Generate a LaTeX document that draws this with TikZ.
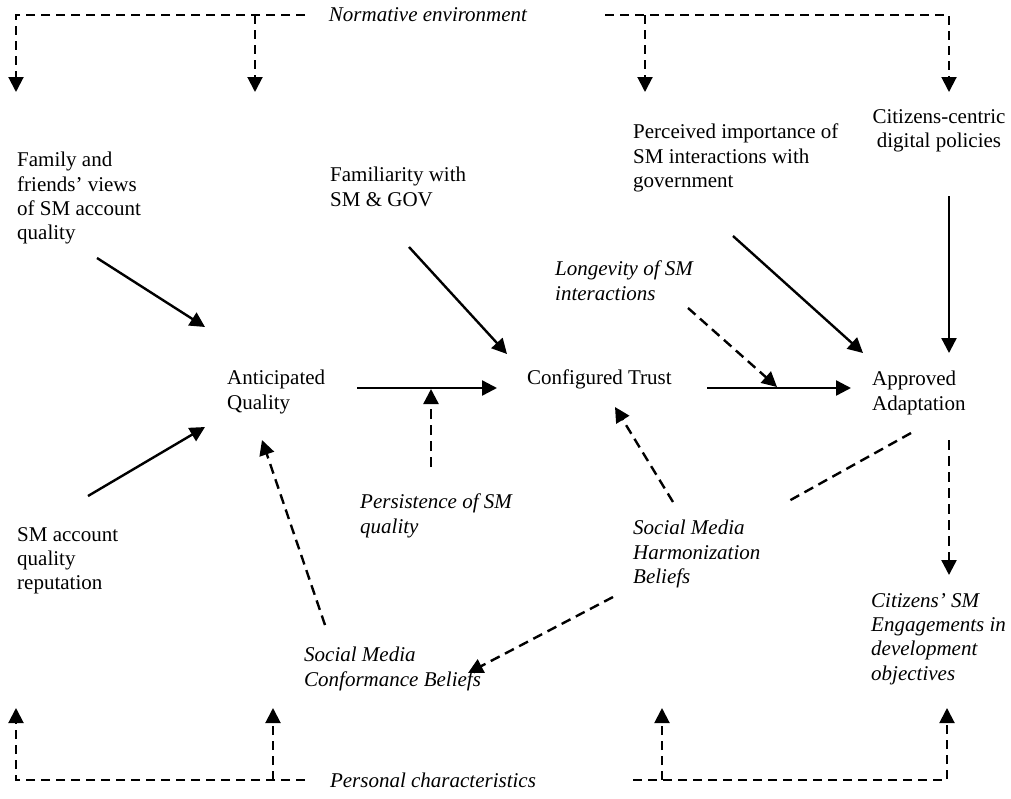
\documentclass[tikz,border=0pt]{standalone}
\usepackage{fontspec}
\setmainfont{Liberation Serif}
\usetikzlibrary{arrows.meta}
\begin{document}
\begin{tikzpicture}[x=1pt,y=-1pt,
  lbl/.style={anchor=north west,inner sep=0pt,align=left,font=\fontsize{21}{24.3}\selectfont},
  ilbl/.style={lbl,font=\fontsize{21}{24.3}\selectfont\itshape},
  solidarr/.style={line width=2.4pt,-{Triangle[length=15pt,width=15pt]}},
  dasharr/.style={line width=2.4pt,dash pattern=on 10pt off 6pt,-{Triangle[length=15pt,width=15pt]}},
  dashline/.style={line width=2.4pt,dash pattern=on 10pt off 6pt},
  brk/.style={line width=2pt,dash pattern=on 9pt off 6pt},
  brkarr/.style={brk,-{Triangle[length=15pt,width=15pt]}},
]
\useasboundingbox (0,0) rectangle (1011,798);

% labels
\node[lbl] (fam) at (17,152) {Family and\\friends' views\\of SM account\\quality};
\node[lbl] (famil) at (330,167) {Familiarity with\\SM \& GOV};
\node[lbl] (perc) at (633,124) {Perceived importance of\\SM interactions with\\government};
\node[lbl,anchor=north,align=center] (cc) at (939,109) {Citizens-centric\\digital policies};
\node[ilbl] (long) at (555,261) {Longevity of SM\\interactions};
\node[lbl] (ant) at (227,370) {Anticipated\\Quality};
\node[lbl] (conf) at (527,370) {Configured Trust};
\node[lbl] (appr) at (872,371) {Approved\\Adaptation};
\node[ilbl] (pers) at (360,494) {Persistence of SM\\quality};
\node[ilbl] (harm) at (633,520) {Social Media\\Harmonization\\Beliefs};
\node[ilbl] (confb) at (304,647) {Social Media\\Conformance Beliefs};
\node[lbl] (rep) at (17,527) {SM account\\quality\\reputation};
\node[ilbl] (eng) at (871,593) {Citizens' SM\\Engagements in\\development\\objectives};
\node[ilbl,anchor=center] (norm) at (428,15) {Normative environment};
\node[ilbl,anchor=center] (pc) at (433,780) {Personal characteristics};

% connector end points
\coordinate (a1s) at (97,258);  \coordinate (a1e) at (205,327);
\coordinate (a2s) at (88,496);  \coordinate (a2e) at (205,427);
\coordinate (a3s) at (357,388); \coordinate (a3e) at (497,388);
\coordinate (a4s) at (431,467); \coordinate (a4e) at (431,389);
\coordinate (a5s) at (409,247); \coordinate (a5e) at (507,354);
\coordinate (a6s) at (707,388); \coordinate (a6e) at (851,388);
\coordinate (a7s) at (688,308); \coordinate (a7e) at (777,387);
\coordinate (a8s) at (733,236); \coordinate (a8e) at (863,353);
\coordinate (a9s) at (949,196); \coordinate (a9e) at (949,353);
\coordinate (a10s) at (673,502); \coordinate (a10e) at (615,407);
\coordinate (l11s) at (911,433); \coordinate (l11e) at (787,502);
\coordinate (a12s) at (949,440); \coordinate (a12e) at (949,575);
\coordinate (a13s) at (613,597); \coordinate (a13e) at (468,673);
\coordinate (a14s) at (325,625); \coordinate (a14e) at (262,440);

\draw[solidarr] (a1s) -- (a1e);
\draw[solidarr] (a2s) -- (a2e);
\draw[solidarr] (a3s) -- (a3e);
\draw[dasharr] (a4s) -- (a4e);
\draw[solidarr] (a5s) -- (a5e);
\draw[solidarr] (a6s) -- (a6e);
\draw[dasharr] (a7s) -- (a7e);
\draw[solidarr] (a8s) -- (a8e);
\draw[solidarr] (a9s) -- (a9e);
\draw[dasharr] (a10s) -- (a10e);
\draw[dashline] (l11s) -- (l11e);
\draw[dasharr] (a12s) -- (a12e);
\draw[dasharr] (a13s) -- (a13e);
\draw[dasharr] (a14s) -- (a14e);

% brackets
\coordinate (t1) at (305,15); \coordinate (t1e) at (16,92);
\coordinate (t2) at (255,15); \coordinate (t2e) at (255,92);
\coordinate (t3) at (605,15); \coordinate (t3e) at (949,92);
\coordinate (t4) at (645,15); \coordinate (t4e) at (645,92);
\coordinate (b1) at (305,780); \coordinate (b1e) at (16,708);
\coordinate (b2) at (273,780); \coordinate (b2e) at (273,708);
\coordinate (b3) at (633,780); \coordinate (b3e) at (947,708);
\coordinate (b4) at (662,780); \coordinate (b4e) at (662,708);
\draw[brkarr] (t1) -| (t1e);
\draw[brkarr] (t2) -- (t2e);
\draw[brkarr] (t3) -| (t3e);
\draw[brkarr] (t4) -- (t4e);
\draw[brkarr] (b1) -| (b1e);
\draw[brkarr] (b2) -- (b2e);
\draw[brkarr] (b3) -| (b3e);
\draw[brkarr] (b4) -- (b4e);
\end{tikzpicture}
\end{document}
